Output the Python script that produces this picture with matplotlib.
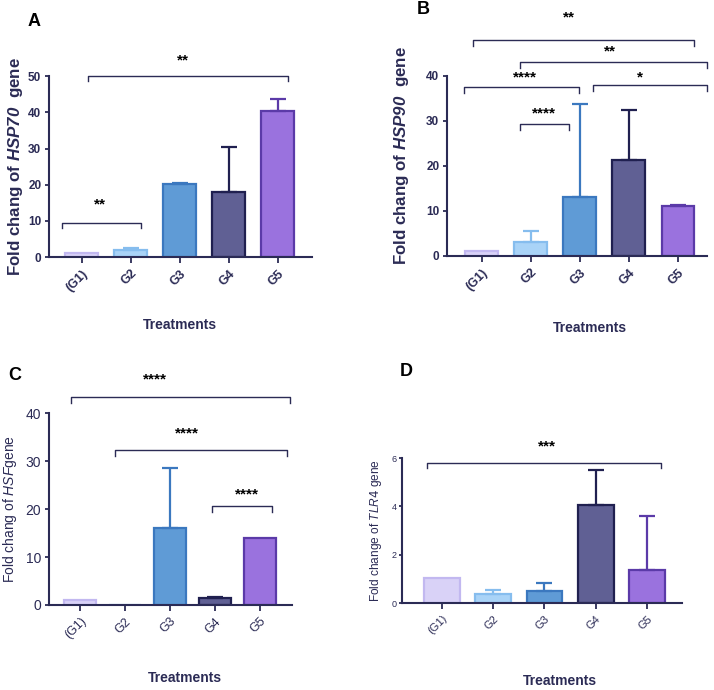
import numpy as np
import matplotlib
matplotlib.use("Agg")
import matplotlib.pyplot as plt

plt.rcParams['font.family'] = ['Liberation Sans', 'DejaVu Sans']
plt.rcParams['mathtext.fontset'] = 'custom'
plt.rcParams['mathtext.it'] = 'Liberation Sans:italic'
plt.rcParams['mathtext.bf'] = 'Liberation Sans:bold'
plt.rcParams['mathtext.bfit'] = 'Liberation Sans:bold:italic'

groups = ["(G1)", "G2", "G3", "G4", "G5"]

# means and upper error (SD) per panel
hsp70_mean = [1.0, 2.0, 20.3, 18.0, 40.3]
hsp70_err = [0.0, 0.5, 0.3, 12.3, 3.5]
hsp90_mean = [1.2, 3.2, 13.0, 21.3, 11.2]
hsp90_err = [0.0, 2.3, 20.7, 11.2, 0.2]
hsf_mean = [1.0, 0.1, 16.0, 1.4, 14.0]
hsf_err = [0.0, 0.0, 12.6, 0.2, 0.0]
tlr4_mean = [1.02, 0.38, 0.5, 4.05, 1.35]
tlr4_err = [0.0, 0.17, 0.35, 1.45, 2.25]

# significance brackets: (x1, x2, y, text x, text y, label)
hsp70_sig = [(-0.4, 1.2, 9.3, 0.38, 12.5, "**"),
             (0.12, 4.2, 50.0, 2.07, 52.5, "**")]
hsp90_sig = [(-0.17, 4.32, 48.0, 1.77, 51.5, "**"),
             (0.78, 4.59, 43.0, 2.62, 43.8, "**"),
             (-0.36, 1.99, 37.5, 0.88, 38.2, "****"),
             (2.26, 4.59, 38.0, 3.22, 38.2, "*"),
             (0.78, 1.78, 29.3, 1.26, 30.0, "****")]
hsf_sig = [(-0.19, 4.67, 43.4, 1.67, 45.6, "****"),
           (0.78, 4.61, 32.4, 2.37, 34.4, "****"),
           (2.94, 4.28, 20.6, 3.71, 21.5, "****")]
tlr4_sig = [(-0.29, 4.27, 5.8, 2.05, 6.2, "***")]

fills = ["#d9d2f7", "#a9d3f7", "#5f9bd6", "#606094", "#9a72de"]
edges = ["#c2b8f0", "#86bdee", "#3b78bf", "#202050", "#5b3aa8"]
navy = "#2b2b55"

fig = plt.figure(figsize=(7.14, 6.9), dpi=100)


def panel(rect, means, errs, sig, ylim, yticks, xlim, width, ylabel, ylab_fs,
          bold, tick_fs, xtick_fs, tip):
    ax = fig.add_axes(rect)
    x = np.arange(len(groups))
    ax.bar(x, means, width=width, color=fills, edgecolor=edges, linewidth=1.6)
    for i in range(len(groups)):
        if errs[i] > 0:
            ax.errorbar(x[i], means[i], yerr=[[0], [errs[i]]], fmt='none',
                        ecolor=edges[i], elinewidth=1.6, capsize=6, capthick=1.6)
    for x1, x2, y, tx, ty, lab in sig:
        ax.plot([x1, x1, x2, x2], [y - tip, y, y, y - tip], color=navy,
                lw=1.0, clip_on=False)
        ax.text(tx, ty, lab, ha='center', va='bottom', fontsize=11,
                fontweight='bold', color='black', clip_on=False)
    ax.set_xlim(*xlim)
    ax.set_ylim(*ylim)
    ax.set_yticks(yticks)
    ax.set_xticks(x)
    ax.set_xticklabels(groups, rotation=45, ha='right', rotation_mode='anchor',
                       fontsize=xtick_fs, fontweight='bold' if bold else 'normal',
                       color=navy)
    for t in ax.get_yticklabels():
        t.set_fontsize(tick_fs)
        t.set_fontweight('bold' if bold else 'normal')
        t.set_color(navy)
    for s in ['top', 'right']:
        ax.spines[s].set_visible(False)
    for s in ['left', 'bottom']:
        ax.spines[s].set_color(navy)
        ax.spines[s].set_linewidth(1.5)
    ax.tick_params(colors=navy, width=1.3, length=4)
    ax.tick_params(axis='y', length=3, pad=2.5)
    ax.set_ylabel(ylabel, fontsize=ylab_fs, fontweight='bold' if bold else 'normal',
                  color=navy)
    return ax


axA = panel([0.0686, 0.6275, 0.368, 0.262], hsp70_mean, hsp70_err, hsp70_sig,
            (0, 50), [0, 10, 20, 30, 40, 50], (-0.67, 4.69), 0.67,
            r"Fold chang of $\mathbfit{HSP70}$  gene", 12.2, True, 8.5, 9, 1.2)
axB = panel([0.626, 0.629, 0.364, 0.261], hsp90_mean, hsp90_err, hsp90_sig,
            (0, 40), [0, 10, 20, 30, 40], (-0.71, 4.59), 0.67,
            r"Fold chang of $\mathbfit{HSP90}$  gene", 12.2, True, 8.5, 9, 1.3)
axC = panel([0.0686, 0.1232, 0.340, 0.278], hsf_mean, hsf_err, hsf_sig,
            (0, 40), [0, 10, 20, 30, 40], (-0.69, 4.71), 0.71,
            r"Fold chang of $\mathit{HSF}$gene", 10, False, 10, 9, 1.3)
axD = panel([0.563, 0.126, 0.392, 0.210], tlr4_mean, tlr4_err, tlr4_sig,
            (0, 6), [0, 2, 4, 6], (-0.78, 4.68), 0.7,
            r"Fold change of $\mathit{TLR4}$ gene", 8.6, False, 6.5, 8, 0.2)
axD.tick_params(axis='y', length=2, pad=2)

axA.yaxis.set_label_coords(-0.09, 0.5)
axB.yaxis.set_label_coords(-0.14, 0.56)
axC.yaxis.set_label_coords(-0.125, 0.5)
axD.yaxis.set_label_coords(-0.065, 0.5)

# panel letters
fig.text(28 / 714, 1 - 21 / 690, "A", fontsize=13, fontweight='bold', va='center')
fig.text(417 / 714, 1 - 9 / 690, "B", fontsize=13, fontweight='bold', va='center')
fig.text(8 / 714, 1 - 375 / 690, "C", fontsize=13, fontweight='bold', va='center')
fig.text(400 / 714, 1 - 372 / 690, "D", fontsize=13, fontweight='bold', va='center')

# x axis titles
fig.text(180 / 714, 1 - 325 / 690, "Treatments", fontsize=10, fontweight='bold',
         color=navy, ha='center', va='center')
fig.text(590 / 714, 1 - 328 / 690, "Treatments", fontsize=10, fontweight='bold',
         color=navy, ha='center', va='center')
fig.text(185 / 714, 1 - 678 / 690, "Treatments", fontsize=10, fontweight='bold',
         color=navy, ha='center', va='center')
fig.text(560 / 714, 1 - 681 / 690, "Treatments", fontsize=10, fontweight='bold',
         color=navy, ha='center', va='center')

fig.savefig("out.png", dpi=100)
